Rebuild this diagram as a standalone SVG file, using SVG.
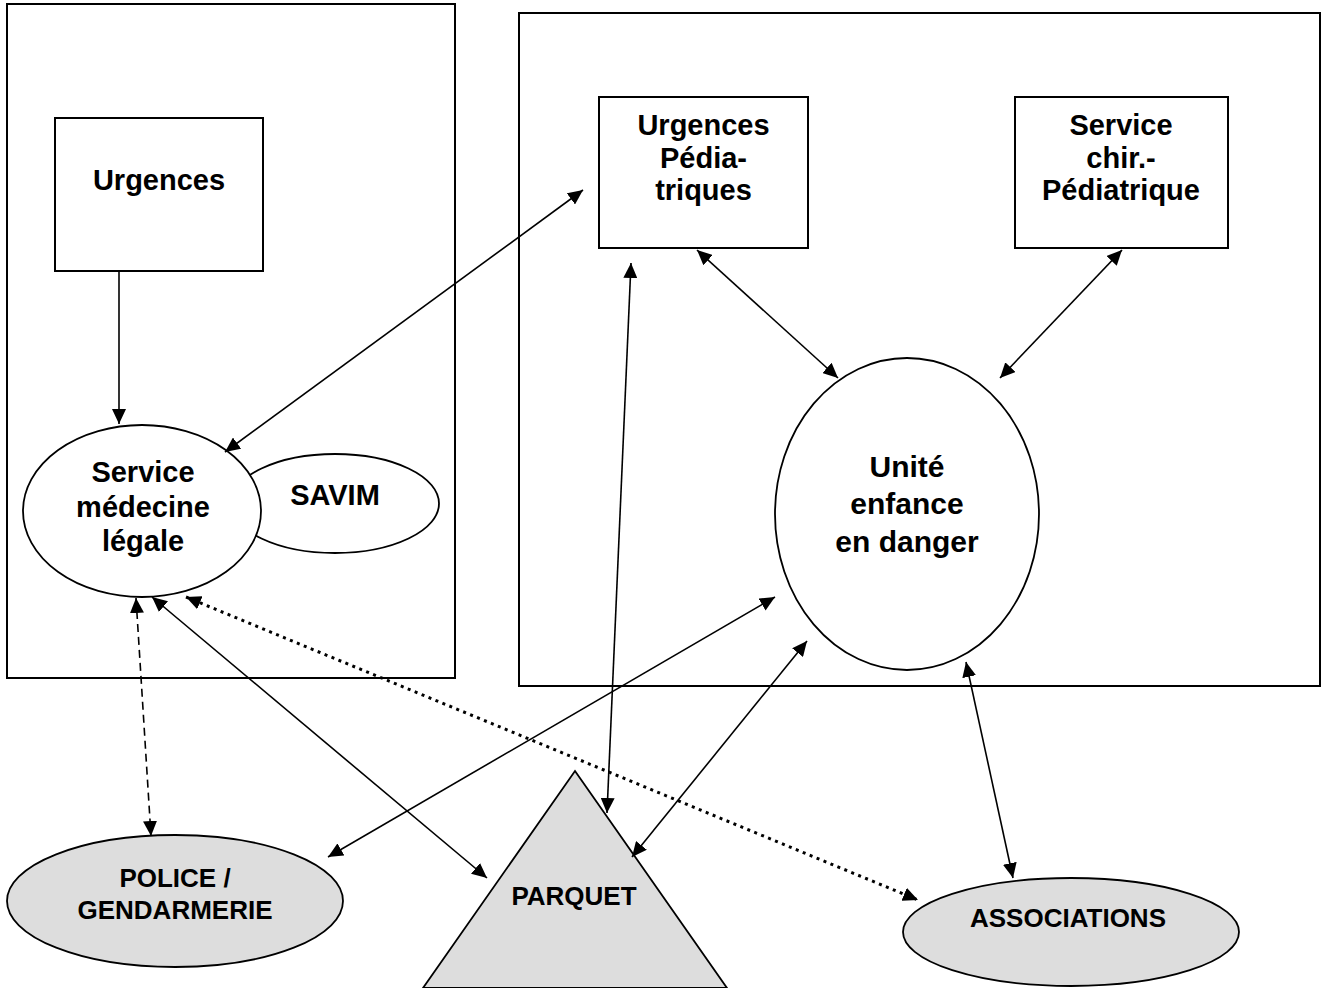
<svg xmlns="http://www.w3.org/2000/svg" width="1323" height="988" viewBox="0 0 1323 988">
<style>
.box{fill:#fff;stroke:#000;stroke-width:2}
.frame{fill:none;stroke:#000;stroke-width:2}
.ell{fill:#fff;stroke:#000;stroke-width:1.8}
.gray{fill:#dddddd;stroke:#000;stroke-width:1.8}
.t{font-family:"Liberation Sans",Arial,sans-serif;font-weight:bold;font-size:29px;text-anchor:middle;fill:#000}
.tb{font-size:30px}
.ts{font-size:26px}
.c{stroke:#000;stroke-width:1.6;fill:none}
.dash{stroke-dasharray:8 5}
.dot{stroke-width:3;stroke-dasharray:3 4.5}
</style>
<defs>
<marker id="ah" markerUnits="userSpaceOnUse" markerWidth="16" markerHeight="14" viewBox="0 0 16 14" refX="15" refY="7" orient="auto-start-reverse">
<path d="M0,0 L15,7 L0,14 Z" fill="#000"/>
</marker>
</defs>
<rect width="1323" height="988" fill="#fff"/>
<g id="frame-left"><rect class="frame" x="7" y="4" width="448" height="674"/></g>
<g id="frame-right"><rect class="frame" x="519" y="13" width="801" height="673"/></g>
<g id="urgences"><rect class="box" x="55" y="118" width="208" height="153"/><text class="t" x="159" y="190">Urgences</text></g>
<g id="savim"><ellipse class="ell" cx="335" cy="503.5" rx="104" ry="49.5"/><text class="t" x="335" y="505">SAVIM</text></g>
<g id="sml"><ellipse class="ell" cx="142" cy="511" rx="119" ry="86"/><text class="t" x="143" y="482">Service</text><text class="t" x="143" y="517">médecine</text><text class="t" x="143" y="551">légale</text></g>
<g id="urg-ped"><rect class="box" x="599" y="97" width="209" height="151"/><text class="t" x="703.5" y="135">Urgences</text><text class="t" x="703.5" y="168">Pédia-</text><text class="t" x="703.5" y="200">triques</text></g>
<g id="chir-ped"><rect class="box" x="1015" y="97" width="213" height="151"/><text class="t" x="1121" y="135">Service</text><text class="t" x="1121" y="168">chir.-</text><text class="t" x="1121" y="200">Pédiatrique</text></g>
<g id="unite"><ellipse class="ell" cx="907" cy="514" rx="132" ry="156"/><text class="t tb" x="907" y="477">Unité</text><text class="t tb" x="907" y="514">enfance</text><text class="t tb" x="907" y="552">en danger</text></g>
<g id="police"><ellipse class="gray" cx="175" cy="901" rx="168" ry="66"/><text class="t ts" x="175" y="887">POLICE /</text><text class="t ts" x="175" y="919">GENDARMERIE</text></g>
<g id="parquet"><polygon class="gray" points="575,771 727,988 423,988"/><text class="t ts" x="574" y="905">PARQUET</text></g>
<g id="associations"><ellipse class="gray" cx="1071" cy="932" rx="168" ry="54"/><text class="t ts" x="1068" y="927">ASSOCIATIONS</text></g>
<g id="connectors">
<line class="c" x1="119" y1="271" x2="119" y2="424" marker-end="url(#ah)"/>
<line class="c" x1="225" y1="452" x2="583" y2="190" marker-start="url(#ah)" marker-end="url(#ah)"/>
<line class="c" x1="631" y1="263" x2="607" y2="813" marker-start="url(#ah)" marker-end="url(#ah)"/>
<line class="c" x1="697" y1="250" x2="838" y2="378" marker-start="url(#ah)" marker-end="url(#ah)"/>
<line class="c" x1="1122" y1="250" x2="1000" y2="378" marker-start="url(#ah)" marker-end="url(#ah)"/>
<line class="c" x1="775" y1="597" x2="328" y2="857" marker-start="url(#ah)" marker-end="url(#ah)"/>
<line class="c" x1="807" y1="641" x2="632" y2="857" marker-start="url(#ah)" marker-end="url(#ah)"/>
<line class="c" x1="966" y1="662" x2="1013" y2="878" marker-start="url(#ah)" marker-end="url(#ah)"/>
<line class="c" x1="152" y1="597" x2="487" y2="878" marker-start="url(#ah)" marker-end="url(#ah)"/>
<line class="c dash" x1="136" y1="598" x2="151" y2="836" marker-start="url(#ah)" marker-end="url(#ah)"/>
<line class="c dot" x1="186" y1="597" x2="918" y2="900" marker-start="url(#ah)" marker-end="url(#ah)"/>
</g>
</svg>
